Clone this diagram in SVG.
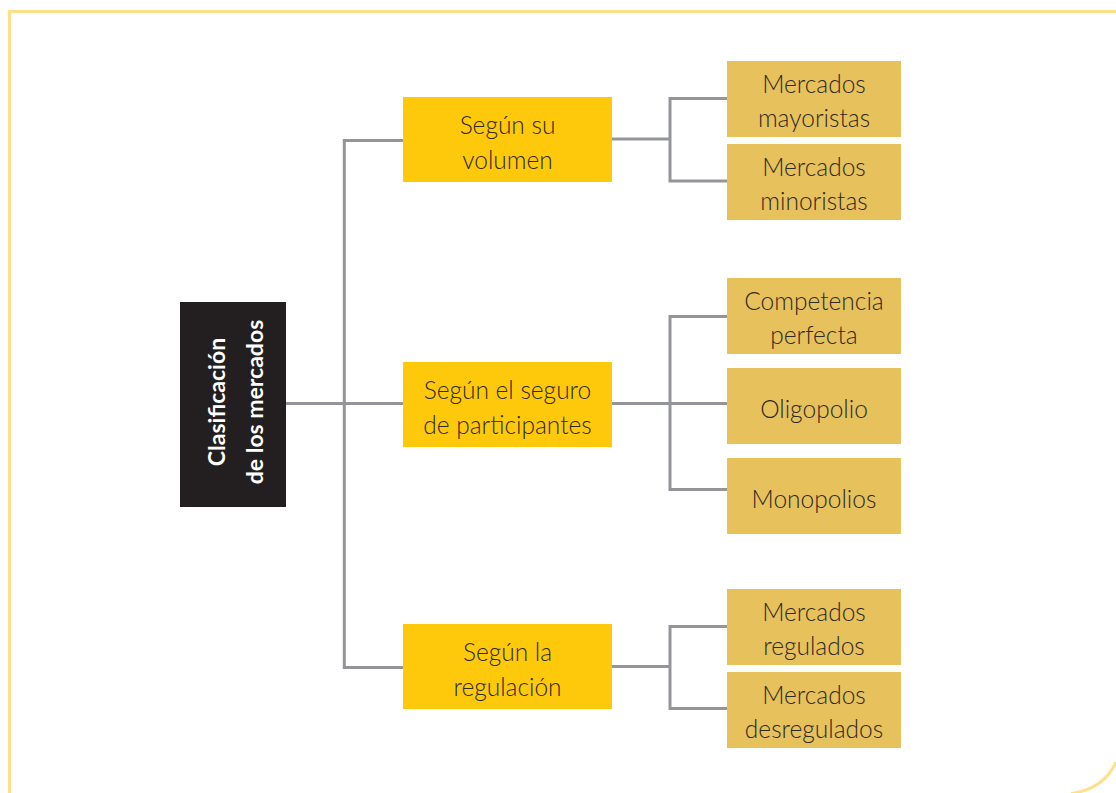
<svg xmlns="http://www.w3.org/2000/svg" width="1116" height="793" viewBox="0 0 1116 793">
  <style>
    .frame { fill: none; stroke: #FFDF8A; stroke-width: 3; }
    .link { fill: none; stroke: #939598; stroke-width: 3; }
    .root { fill: #231F20; }
    .lvl1 { fill: #FEC90B; }
    .lvl2 { fill: #E7C15B; }
    .lbl { font-family: Lato, "Open Sans", sans-serif; font-size: 24.5px; font-weight: 300; fill: #2F2A24; text-anchor: middle; }
    .rootlbl { font-family: Lato, "Open Sans", sans-serif; font-size: 23px; font-weight: bold; fill: #FFFFFF; text-anchor: middle; }
  </style>

  <!-- page frame -->
  <g id="frame">
    <path class="frame" d="M9.5,793 V11.5 H1116"/>
    <path class="frame" d="M1116,762 Q1104,789 1071,793.5"/>
  </g>

  <!-- connectors -->
  <g id="connectors">
    <path class="link" d="M286,403.5 H403"/>
    <path class="link" d="M403,140.5 H344.3 V667.5 H403"/>
    <path class="link" d="M612,139 H670"/>
    <path class="link" d="M727,98.5 H670 V181 H727"/>
    <path class="link" d="M612,403.5 H727"/>
    <path class="link" d="M727,316.5 H670 V489.5 H727"/>
    <path class="link" d="M612,666.5 H670"/>
    <path class="link" d="M727,626.5 H670 V708.5 H727"/>
  </g>

  <!-- root -->
  <g id="root">
    <rect class="root" x="180" y="302" width="106" height="205"/>
    <text class="rootlbl" transform="translate(225,402) rotate(-90)" x="0" y="0">Clasificación</text>
    <text class="rootlbl" transform="translate(263,402) rotate(-90)" x="0" y="0">de los mercados</text>
  </g>

  <!-- first level -->
  <g id="volumen">
    <rect class="lvl1" x="403" y="97" width="209" height="85"/>
    <text class="lbl" x="507.5" y="134">Según su</text>
    <text class="lbl" x="507.5" y="169">volumen</text>
  </g>
  <g id="participantes">
    <rect class="lvl1" x="403" y="362" width="209" height="85"/>
    <text class="lbl" x="507.5" y="399">Según el seguro</text>
    <text class="lbl" x="507.5" y="434">de participantes</text>
  </g>
  <g id="regulacion">
    <rect class="lvl1" x="403" y="624" width="209" height="85"/>
    <text class="lbl" x="507.5" y="661">Según la</text>
    <text class="lbl" x="507.5" y="696">regulación</text>
  </g>

  <!-- second level -->
  <g id="mayoristas">
    <rect class="lvl2" x="727" y="61" width="174" height="76"/>
    <text class="lbl" x="814" y="93">Mercados</text>
    <text class="lbl" x="814" y="127">mayoristas</text>
  </g>
  <g id="minoristas">
    <rect class="lvl2" x="727" y="144" width="174" height="76"/>
    <text class="lbl" x="814" y="176">Mercados</text>
    <text class="lbl" x="814" y="210">minoristas</text>
  </g>
  <g id="competencia">
    <rect class="lvl2" x="727" y="278" width="174" height="76"/>
    <text class="lbl" x="814" y="310">Competencia</text>
    <text class="lbl" x="814" y="344">perfecta</text>
  </g>
  <g id="oligopolio">
    <rect class="lvl2" x="727" y="368" width="174" height="76"/>
    <text class="lbl" x="814" y="418">Oligopolio</text>
  </g>
  <g id="monopolios">
    <rect class="lvl2" x="727" y="458" width="174" height="76"/>
    <text class="lbl" x="814" y="508">Monopolios</text>
  </g>
  <g id="regulados">
    <rect class="lvl2" x="727" y="589" width="174" height="76"/>
    <text class="lbl" x="814" y="621">Mercados</text>
    <text class="lbl" x="814" y="655">regulados</text>
  </g>
  <g id="desregulados">
    <rect class="lvl2" x="727" y="672" width="174" height="76"/>
    <text class="lbl" x="814" y="704">Mercados</text>
    <text class="lbl" x="814" y="738">desregulados</text>
  </g>
</svg>
